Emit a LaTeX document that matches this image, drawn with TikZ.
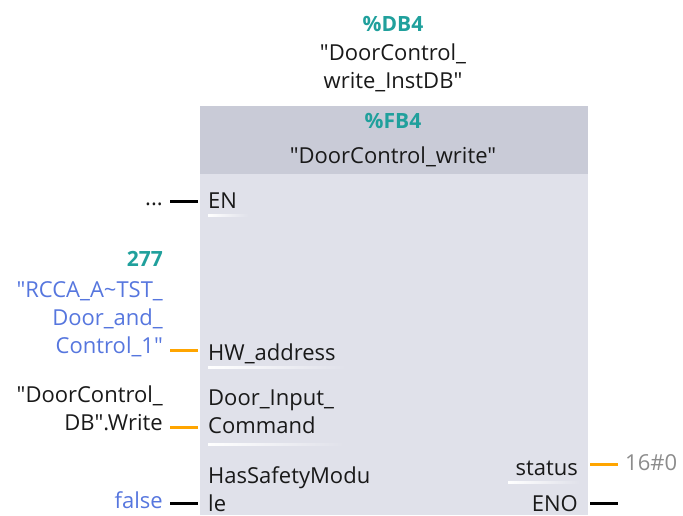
\documentclass[tikz,border=0pt]{standalone}
\usepackage{fontspec}
\setmainfont{Open Sans}[Ligatures=TeXOff]
\usetikzlibrary{positioning}
\definecolor{fbteal}{RGB}{32,160,156}
\definecolor{fbblue}{RGB}{86,118,222}
\definecolor{fbhead}{RGB}{201,203,215}
\definecolor{fbbody}{RGB}{224,225,234}
\definecolor{fbwire}{RGB}{255,165,0}
\definecolor{fbgray}{RGB}{140,140,140}

\begin{document}
\begin{tikzpicture}[
    x=1pt, y=-1pt,
    font=\fontsize{22}{28}\selectfont,
    txt/.style={inner sep=0pt, text=black!90},
    pin/.style={txt, anchor=base west},
    outpin/.style={txt, anchor=base east},
    value/.style={txt, anchor=base east, align=right},
    ident/.style={inner sep=0pt, text=fbteal, font=\fontsize{21}{28}\selectfont\bfseries},
    wire/.style={line width=3pt, fbwire},
    enwire/.style={line width=3pt, black},
    uline/.style={left color=white, right color=fbbody}
]
\useasboundingbox (0,0) rectangle (683,515);

% Block
\node[fill=fbbody, inner sep=0, minimum width=388, minimum height=409, anchor=north west] (fb) at (200,106) {};
\node[fill=fbhead, inner sep=0, minimum width=388, minimum height=68, anchor=north west] (head) at (fb.north west) {};

% Instance and block names
\node[ident, anchor=base] (dbnum) at (393,31) {\%DB4};
\node[txt, align=center, anchor=base] (dbname) at (393,88) {"DoorControl\_\\write\_InstDB"};
\node[ident, anchor=base] (fbnum) at (393,128) {\%FB4};
\node[txt, anchor=base] (fbname) at (393,163) {"DoorControl\_write"};

% Pins
\node[pin] (en) at (208,208) {EN};
\node[pin] (hw) at (208,360) {HW\_address};
\node[pin, align=left] (cmd) at (208,433) {Door\_Input\_\\Command};
\node[pin, align=left] (safe) at (208,511) {HasSafetyModu\\le};
\node[outpin] (status) at (578,475) {status};
\node[outpin] (eno) at (578,511) {ENO};

% Underlines
\shade[uline] ([yshift=-8pt]en.base west) rectangle ++(40,-2);
\shade[uline] ([yshift=-8pt]hw.base west) rectangle ++(138,-2);
\shade[uline] ([yshift=-12pt]cmd.base west) rectangle ++(136,-2);
\shade[uline] ([yshift=-8pt,xshift=-70pt]status.base east) rectangle ++(72,-2);

% Values
\node[value] (dots) at (163,205) {...};
\node[value, text=fbteal, font=\fontsize{21}{28}\selectfont\bfseries] (hwnum) at (163,266) {277};
\node[value, text=fbblue] (hwtag) at (163,353) {"RCCA\_A\textasciitilde TST\_\\Door\_and\_\\Control\_1"};
\node[value] (cmdtag) at (163,430) {"DoorControl\_\\DB".Write};
\node[value, text=fbblue] (safeval) at (163,508) {false};
\node[txt, anchor=base west, text=fbgray] (stval) at (625,470) {16\#0};

% Wires
\coordinate (pEN) at (198,201);
\coordinate (pHW) at (198,350);
\coordinate (pCMD) at (198,427);
\coordinate (pSAFE) at (198,503);
\coordinate (pST) at (590,464);
\coordinate (pENO) at (590,503);
\coordinate (enoEnd) at (618,503);

\draw[enwire, shorten <=7pt] (dots.east |- pEN) -- (pEN);
\draw[wire, shorten <=7pt] (hwtag.east |- pHW) -- (pHW);
\draw[wire, shorten <=7pt] (cmdtag.east |- pCMD) -- (pCMD);
\draw[enwire, shorten <=7pt] (safeval.east |- pSAFE) -- (pSAFE);
\draw[wire, shorten >=7pt] (pST) -- (stval.west |- pST);
\draw[enwire] (pENO) -- (enoEnd);

\end{tikzpicture}
\end{document}
